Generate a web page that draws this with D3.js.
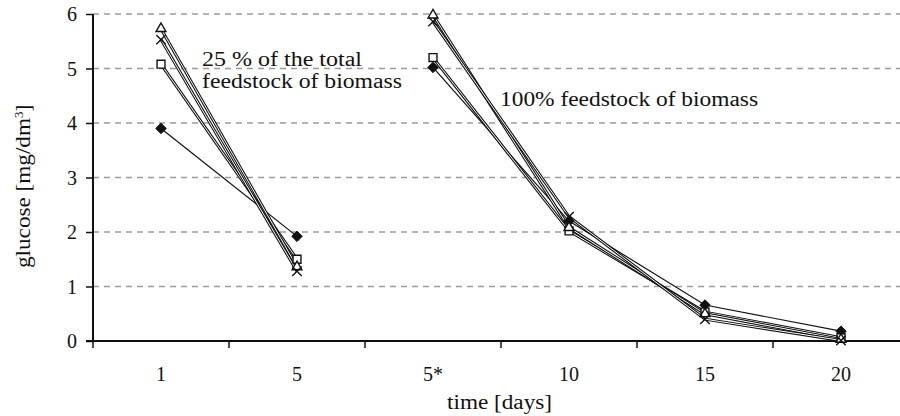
<!DOCTYPE html>
<html>
<head>
<meta charset="utf-8">
<script src="https://cdn.jsdelivr.net/npm/d3@7"></script>
<style>
  body { margin: 0; background: #fff; }
  text { font-family: "Liberation Serif", "Times New Roman", serif; fill: #111; }
</style>
</head>
<body>
<div id="chart"></div>
<script>
// categories on the time axis (5* = restart with full feedstock)
var days = ["1", "5", "5*", "10", "15", "20"];
var yTicks = [0, 1, 2, 3, 4, 5, 6];

// glucose values, one per day
var diamondVals  = [3.9, 1.92, 5.02, 2.2, 0.66, 0.18];
var squareVals   = [5.08, 1.5, 5.2, 2.02, 0.53, 0.06];
var triangleVals = [5.73, 1.36, 5.98, 2.08, 0.5, 0.03];
var crossVals    = [5.53, 1.28, 5.86, 2.28, 0.4, 0.01];

// the two experiments are drawn as separate segments
var segments = [["1", "5"], ["5*", "10", "15", "20"]];

var cfg = {
  w: 900,
  h: 416,
  left: 93,
  top: 14,
  bottom: 341,
  right: 909,
  font: "Liberation Serif, serif"
};

var series = [
  {name: "diamond", vals: diamondVals, hollow: false},
  {name: "square", vals: squareVals, hollow: true},
  {name: "triangle", vals: triangleVals, hollow: true},
  {name: "cross", vals: crossVals, hollow: true}
];

var svg = d3.select("#chart")
  .append("svg")
  .attr("width", cfg.w)
  .attr("height", cfg.h);

var x = d3.scaleBand()
  .domain(days)
  .range([cfg.left, cfg.right])
  .padding(0);

var y = d3.scaleLinear()
  .domain([0, 6])
  .range([cfg.bottom, cfg.top]);

var cx = function(d) { return x(d) + x.bandwidth() / 2; };

// dashed gridlines
svg.append("g")
  .selectAll("line")
  .data(yTicks.filter(function(d) { return d > 0; }))
  .join("line")
  .attr("x1", cfg.left)
  .attr("x2", cfg.w)
  .attr("y1", function(d) { return y(d); })
  .attr("y2", function(d) { return y(d); })
  .attr("stroke", "#9a9a9a")
  .attr("stroke-width", 1.3)
  .attr("stroke-dasharray", "6,5");

// Y axis
var yAxis = svg.append("g")
  .attr("transform", "translate(" + cfg.left + ",0)")
  .call(d3.axisLeft(y).tickValues(yTicks).tickSize(7).tickPadding(9).tickFormat(d3.format("d")));
yAxis.select(".domain").attr("stroke", "#111").attr("stroke-width", 2)
  .attr("d", "M0," + cfg.top + "V" + cfg.bottom);
yAxis.selectAll(".tick line").attr("stroke", "#111").attr("stroke-width", 1.5);
yAxis.selectAll(".tick text")
  .attr("font-size", "20px")
  .attr("font-family", cfg.font)
  .attr("fill", "#111")
  .attr("dy", "0.33em");

// X axis: labels in the middle of each band, ticks on the band edges
var xAxis = svg.append("g")
  .attr("transform", "translate(0," + cfg.bottom + ")")
  .call(d3.axisBottom(x).tickSize(0).tickPadding(26));
xAxis.select(".domain").attr("stroke", "#111").attr("stroke-width", 2)
  .attr("d", "M" + (cfg.left - 7) + ",0H" + cfg.w);
xAxis.selectAll(".tick text")
  .attr("font-size", "20px")
  .attr("font-family", cfg.font)
  .attr("fill", "#111");

xAxis.selectAll(".edge")
  .data(days)
  .join("line")
  .attr("class", "edge")
  .attr("x1", function(d) { return x(d); })
  .attr("x2", function(d) { return x(d); })
  .attr("y1", 0)
  .attr("y2", 7)
  .attr("stroke", "#111")
  .attr("stroke-width", 1.5);

// axis titles
svg.append("text")
  .attr("x", 447)
  .attr("y", 409)
  .attr("font-size", "20px")
  .attr("textLength", 105)
  .attr("lengthAdjust", "spacingAndGlyphs")
  .text("time [days]");

var yTitle = svg.append("text")
  .attr("transform", "translate(30,268) rotate(-90)")
  .attr("font-size", "20px");
yTitle.append("tspan").attr("textLength", 150).attr("lengthAdjust", "spacingAndGlyphs").text("glucose [mg/dm");
yTitle.append("tspan").attr("baseline-shift", "super").attr("font-size", "13px").text("3");
yTitle.append("tspan").text("]");

// lines
var line = d3.line()
  .x(function(d) { return cx(d.day); })
  .y(function(d) { return y(d.v); });

series.forEach(function(s) {
  segments.forEach(function(seg) {
    var pts = seg.map(function(day) { return {day: day, v: s.vals[days.indexOf(day)]}; });
    if (s.hollow) {
      svg.append("path").datum(pts)
        .attr("fill", "none").attr("stroke", "#111").attr("stroke-width", 3).attr("d", line);
      svg.append("path").datum(pts)
        .attr("fill", "none").attr("stroke", "#fff").attr("stroke-width", 1).attr("d", line);
    } else {
      svg.append("path").datum(pts)
        .attr("fill", "none").attr("stroke", "#111").attr("stroke-width", 1.2).attr("d", line);
    }
  });
});

// markers
var sym = {
  diamond: d3.symbol().type(d3.symbolDiamond2).size(70),
  square: d3.symbol().type(d3.symbolSquare2).size(80),
  triangle: d3.symbol().type(d3.symbolTriangle2).size(70),
  cross: d3.symbol().type(d3.symbolX).size(60)
};

series.forEach(function(s) {
  svg.append("g")
    .selectAll("path")
    .data(days)
    .join("path")
    .attr("transform", function(d, i) { return "translate(" + cx(d) + "," + y(s.vals[i]) + ")"; })
    .attr("d", sym[s.name])
    .attr("fill", s.name === "diamond" ? "#111" : (s.name === "cross" ? "none" : "#fff"))
    .attr("stroke", "#111")
    .attr("stroke-width", s.name === "diamond" ? 1 : 1.4);
});

// annotations
var note1 = svg.append("text")
  .attr("font-size", "20px");
note1.append("tspan").attr("x", 202).attr("y", 66)
  .attr("textLength", 160).attr("lengthAdjust", "spacingAndGlyphs").text("25 % of the total");
note1.append("tspan").attr("x", 202).attr("y", 88)
  .attr("textLength", 200).attr("lengthAdjust", "spacingAndGlyphs").text("feedstock of biomass");

svg.append("text")
  .attr("x", 500)
  .attr("y", 106)
  .attr("font-size", "20px")
  .attr("textLength", 258)
  .attr("lengthAdjust", "spacingAndGlyphs")
  .text("100% feedstock of biomass");
</script>
</body>
</html>
